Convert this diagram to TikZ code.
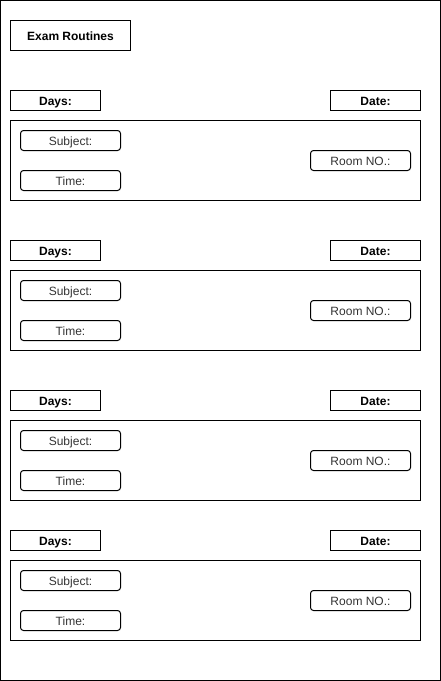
\documentclass[tikz,border=0pt]{standalone}
\usepackage{fontspec}
\setmainfont{Liberation Sans}
\usetikzlibrary{positioning}

\begin{document}
\begin{tikzpicture}[x=1pt, y=-1pt, line width=1pt,
  box/.style={draw, inner sep=0pt, outer sep=0pt, anchor=north west, text height=9pt, text depth=0pt, font=\fontsize{12}{14}\selectfont},
  head/.style={box, minimum width=90pt, minimum height=20pt, font=\fontsize{12}{14}\selectfont\bfseries},
  field/.style={box, rounded corners=3pt, minimum width=100pt, minimum height=20pt, text=black!80},
  panel/.style={box, minimum width=410pt, minimum height=80pt}]
  \useasboundingbox (0,0) rectangle (441,681);
  \node[box, minimum width=440pt, minimum height=680pt] (page) at (0.5,0.5) {};
  \node[box, minimum width=120pt, minimum height=30pt, font=\fontsize{12}{14}\selectfont\bfseries] (title) at (10.5,20.5) {Exam Routines};
  \foreach \i/\y in {1/90, 2/240, 3/390, 4/530} {
    \node[head] (days\i) at (10.5,{\y+0.5}) {Days:};
    \node[head] (date\i) at (330.5,{\y+0.5}) {Date:};
    \node[panel, below right=10pt and 0pt of days\i.south west] (panel\i) {};
    \node[field, below right=10pt and 10pt of panel\i.north west] (subject\i) {Subject:};
    \node[field, below=20pt of subject\i] (time\i) {Time:};
    \node[field, left=10pt of panel\i.east] (room\i) {Room NO.:};
  }
\end{tikzpicture}
\end{document}
